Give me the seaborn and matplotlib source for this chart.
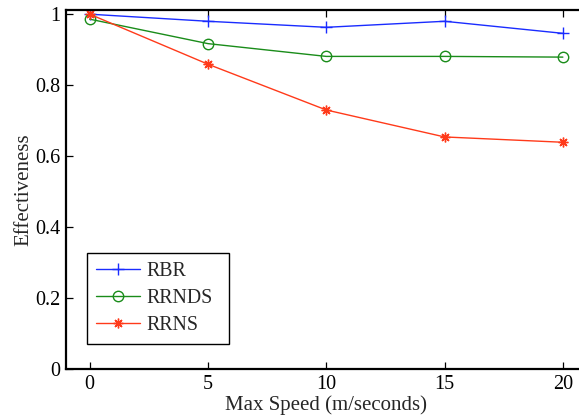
import matplotlib
matplotlib.use("Agg")
import matplotlib.pyplot as plt
import seaborn as sns
import pandas as pd

sns.set_theme(style="white")
plt.rcParams["font.family"] = ["Liberation Serif", "DejaVu Serif"]
plt.rcParams["mathtext.fontset"] = "stix"

speed = [0, 5, 10, 15, 20]
rbr = [1.0, 0.980, 0.963, 0.980, 0.946]
rrnds = [0.986, 0.917, 0.881, 0.881, 0.879]
rrns = [1.0, 0.859, 0.730, 0.654, 0.639]

series = [
    ("RBR", rbr, "#1a2cff", "+", dict(markersize=9, markeredgewidth=1.0)),
    ("RRNDS", rrnds, "#1a8c1a", "o", dict(markersize=7.5, markerfacecolor="none", markeredgewidth=1.0)),
    ("RRNS", rrns, "#ff3a1a", (8, 2, 0), dict(markersize=7, markeredgewidth=1.0)),
]

fig = plt.figure(figsize=(5.79, 4.16), dpi=100)
ax = fig.add_axes([0.114, 0.113, 0.899, 0.864])

for name, vals, color, mk, kw in series:
    df = pd.DataFrame({"speed": speed, "eff": vals})
    sns.lineplot(data=df, x="speed", y="eff", ax=ax, color=color, marker=mk,
                 linewidth=1.0, label=name, markeredgecolor=color, **kw)

ax.set_xlim(-1, 21)
ax.set_ylim(0, 1.013)
ax.set_xticks([0, 5, 10, 15, 20])
ax.set_yticks([0, 0.2, 0.4, 0.6, 0.8, 1])
ax.set_yticklabels(["0", "0.2", "0.4", "0.6", "0.8", "1"])
ax.tick_params(direction="in", length=5, width=0.9, labelsize=14.5, colors="black",
               bottom=True, left=True, top=True, right=True, pad=4)
for s in ax.spines.values():
    s.set_color("black")
    s.set_linewidth(1.6)
ax.set_xlabel("Max Speed (m/seconds)", fontsize=15, labelpad=1)
ax.set_ylabel("Effectiveness", fontsize=15, labelpad=1)

leg = ax.legend(loc="lower left", bbox_to_anchor=(0.040, 0.070, 0.273, 0.3),
                mode="expand", fontsize=14.3,
                frameon=True, fancybox=False, edgecolor="black", framealpha=1,
                handlelength=2.25, borderpad=0.45, labelspacing=0.4, handletextpad=0.3,
                borderaxespad=0)
leg.get_frame().set_linewidth(1.0)

fig.savefig("out.png", dpi=100)
